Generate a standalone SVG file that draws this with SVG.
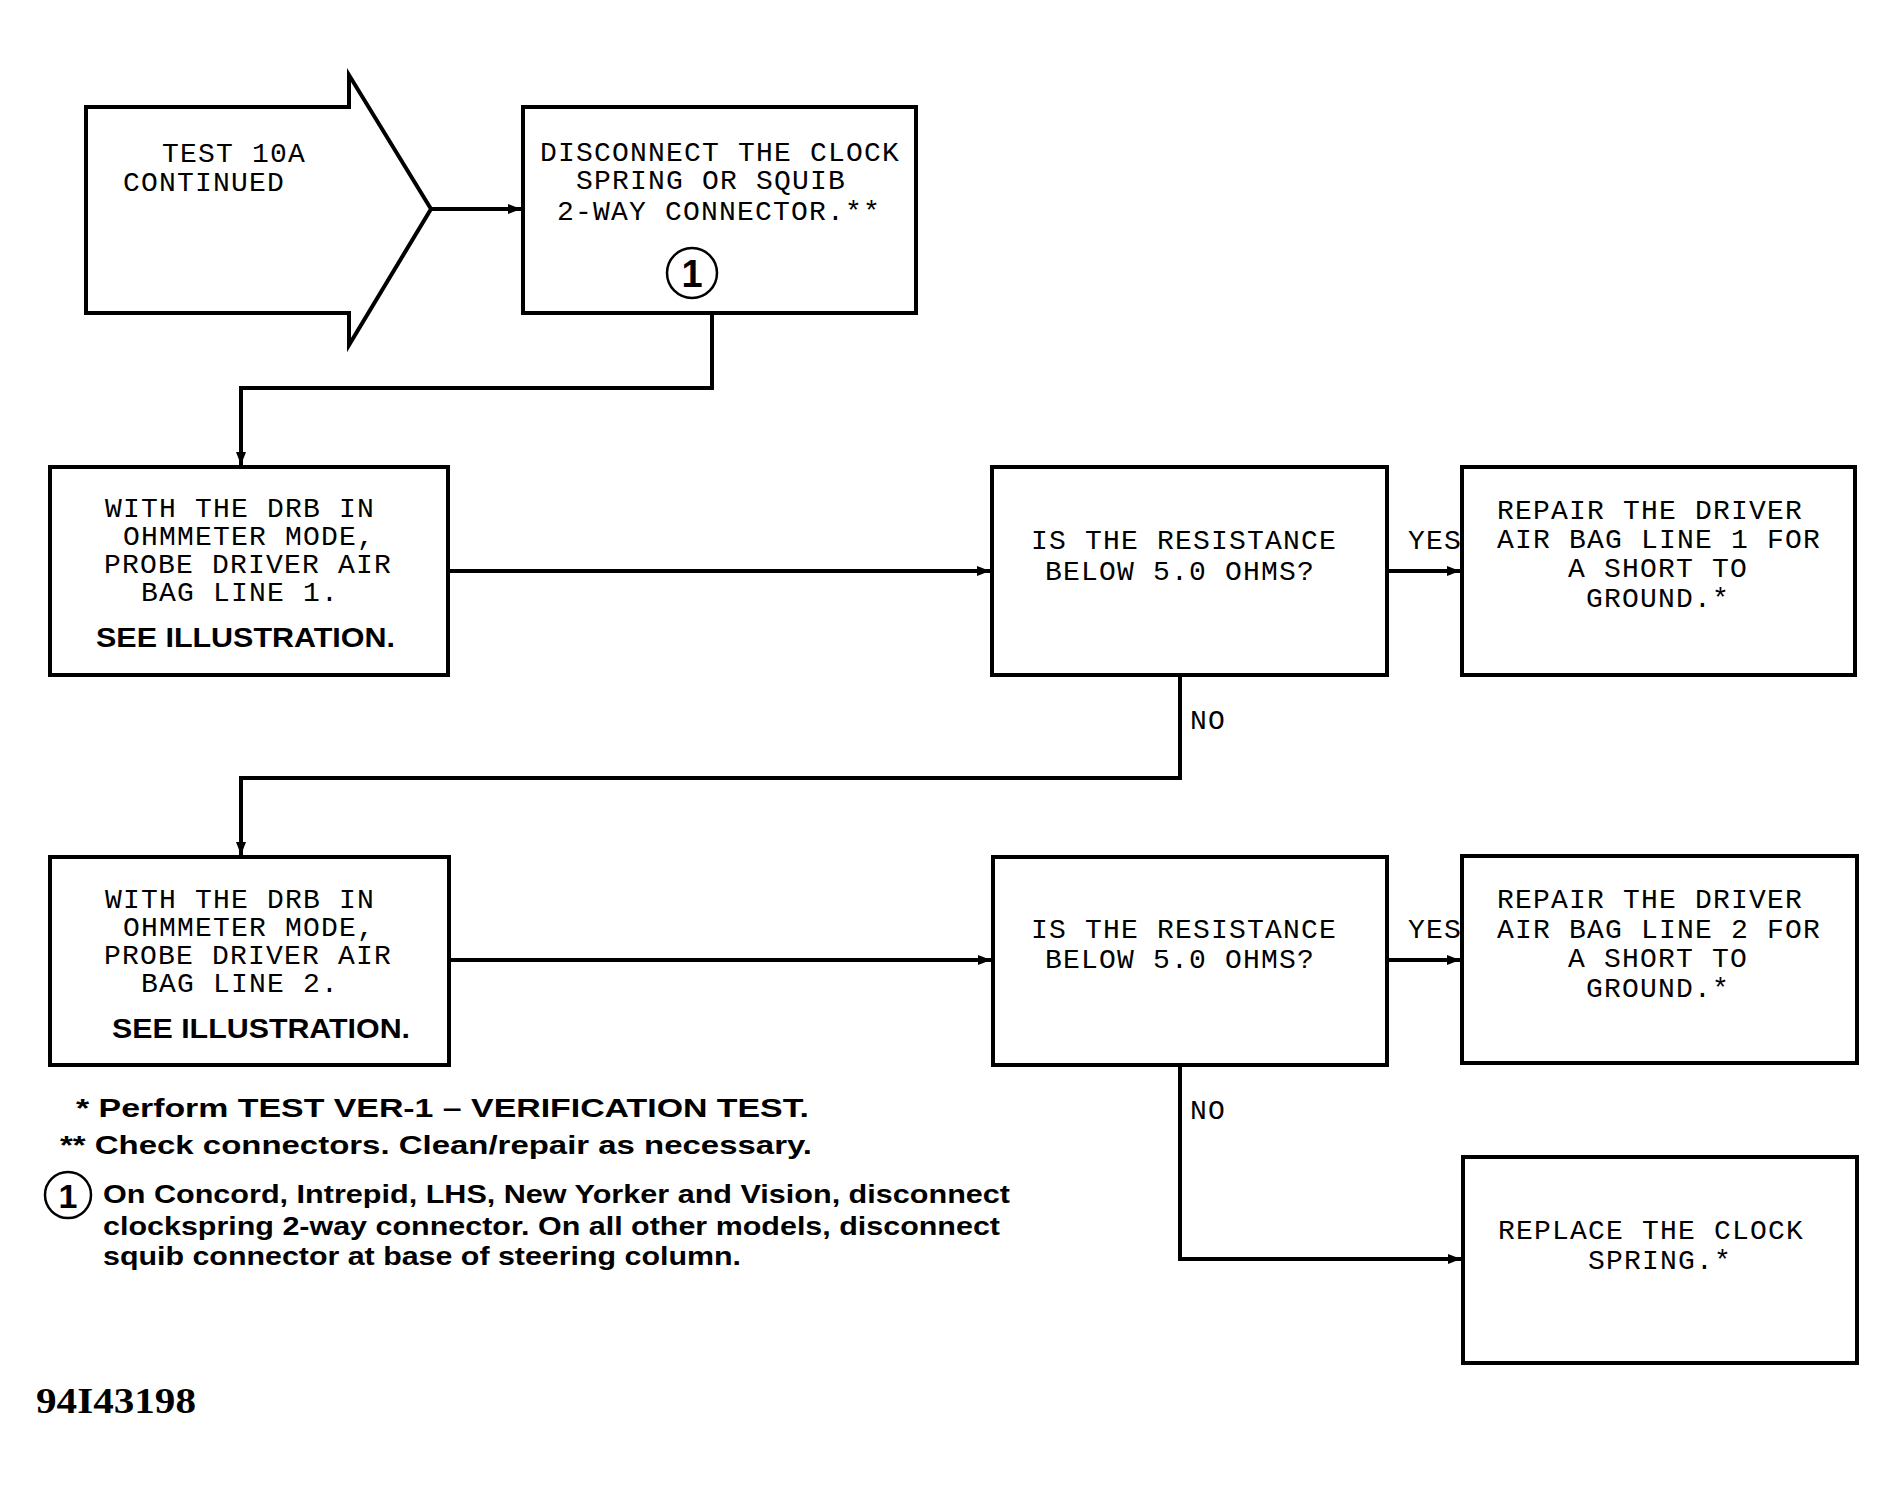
<svg xmlns="http://www.w3.org/2000/svg" width="1895" height="1489" viewBox="0 0 1895 1489">
<defs>
<style>
.box{fill:#fff;stroke:#000;stroke-width:4}
.ln{fill:none;stroke:#000;stroke-width:4}
.m{font-family:"Liberation Mono","DejaVu Sans Mono",monospace;font-size:28px;letter-spacing:1.2px;fill:#000}
.b{font-family:"Liberation Sans",Arial,sans-serif;font-weight:bold;fill:#000}
.fn{font-family:"Liberation Sans",Arial,sans-serif;font-weight:bold;font-size:25px;fill:#000}
.cn{fill:none;stroke:#000;stroke-width:2.5}
</style>
<marker id="ah" markerUnits="userSpaceOnUse" markerWidth="14" markerHeight="12" refX="13" refY="5" orient="auto">
<path d="M0,0 L13,5 L0,10 z" fill="#000"/>
</marker>
</defs>
<rect width="1895" height="1489" fill="#fff"/>

<g id="connectors">
<path class="ln" d="M431,209 H521" marker-end="url(#ah)"/>
<path class="ln" d="M712,313 V388 H241 V465" marker-end="url(#ah)"/>
<path class="ln" d="M448,571 H990" marker-end="url(#ah)"/>
<path class="ln" d="M1387,571 H1460" marker-end="url(#ah)"/>
<path class="ln" d="M1180,675 V778 H241 V855" marker-end="url(#ah)"/>
<path class="ln" d="M449,960 H991" marker-end="url(#ah)"/>
<path class="ln" d="M1387,960 H1460" marker-end="url(#ah)"/>
<path class="ln" d="M1180,1065 V1259 H1461" marker-end="url(#ah)"/>
<text class="m" x="1408" y="549">YES</text>
<text class="m" x="1190" y="729">NO</text>
<text class="m" x="1408" y="938">YES</text>
<text class="m" x="1190" y="1119">NO</text>
</g>

<g id="start">
<polygon class="box" points="86,107 349,107 349,75 431,209 349,345 349,313 86,313"/>
<text class="m" x="162" y="162">TEST 10A</text>
<text class="m" x="123" y="191">CONTINUED</text>
</g>

<g id="disconnect">
<rect class="box" x="523" y="107" width="393" height="206"/>
<text class="m" x="540" y="161">DISCONNECT THE CLOCK</text>
<text class="m" x="576" y="189">SPRING OR SQUIB</text>
<text class="m" x="557" y="220">2-WAY CONNECTOR.**</text>
<circle class="cn" cx="692" cy="273" r="25"/>
<text class="b" x="692" y="287" font-size="38" text-anchor="middle">1</text>
</g>

<g id="probe1">
<rect class="box" x="50" y="467" width="398" height="208"/>
<text class="m" x="105" y="517">WITH THE DRB IN</text>
<text class="m" x="123" y="545">OHMMETER MODE,</text>
<text class="m" x="104" y="573">PROBE DRIVER AIR</text>
<text class="m" x="141" y="601">BAG LINE 1.</text>
<text class="b" x="96" y="647" font-size="28" textLength="299" lengthAdjust="spacingAndGlyphs">SEE ILLUSTRATION.</text>
</g>

<g id="decision1">
<rect class="box" x="992" y="467" width="395" height="208"/>
<text class="m" x="1031" y="549">IS THE RESISTANCE</text>
<text class="m" x="1045" y="580">BELOW 5.0 OHMS?</text>
</g>

<g id="repair1">
<rect class="box" x="1462" y="467" width="393" height="208"/>
<text class="m" x="1497" y="519">REPAIR THE DRIVER</text>
<text class="m" x="1497" y="548">AIR BAG LINE 1 FOR</text>
<text class="m" x="1568" y="577">A SHORT TO</text>
<text class="m" x="1586" y="607">GROUND.*</text>
</g>

<g id="probe2">
<rect class="box" x="50" y="857" width="399" height="208"/>
<text class="m" x="105" y="908">WITH THE DRB IN</text>
<text class="m" x="123" y="936">OHMMETER MODE,</text>
<text class="m" x="104" y="964">PROBE DRIVER AIR</text>
<text class="m" x="141" y="992">BAG LINE 2.</text>
<text class="b" x="112" y="1038" font-size="28" textLength="298" lengthAdjust="spacingAndGlyphs">SEE ILLUSTRATION.</text>
</g>

<g id="decision2">
<rect class="box" x="993" y="857" width="394" height="208"/>
<text class="m" x="1031" y="938">IS THE RESISTANCE</text>
<text class="m" x="1045" y="968">BELOW 5.0 OHMS?</text>
</g>

<g id="repair2">
<rect class="box" x="1462" y="856" width="395" height="207"/>
<text class="m" x="1497" y="908">REPAIR THE DRIVER</text>
<text class="m" x="1497" y="938">AIR BAG LINE 2 FOR</text>
<text class="m" x="1568" y="967">A SHORT TO</text>
<text class="m" x="1586" y="997">GROUND.*</text>
</g>

<g id="replace">
<rect class="box" x="1463" y="1157" width="394" height="206"/>
<text class="m" x="1498" y="1239" fill="#222">REPLACE THE CLOCK</text>
<text class="m" x="1588" y="1269" fill="#222">SPRING.*</text>
</g>

<g id="notes">
<text class="fn" x="76" y="1117" textLength="733" lengthAdjust="spacingAndGlyphs">* Perform TEST VER-1 – VERIFICATION TEST.</text>
<text class="fn" x="60" y="1154" textLength="752" lengthAdjust="spacingAndGlyphs">** Check connectors. Clean/repair as necessary.</text>
<circle class="cn" cx="68" cy="1195" r="23"/>
<text class="b" x="68" y="1208" font-size="34" text-anchor="middle">1</text>
<text class="fn" x="103" y="1203" textLength="907" lengthAdjust="spacingAndGlyphs">On Concord, Intrepid, LHS, New Yorker and Vision, disconnect</text>
<text class="fn" x="103" y="1235" textLength="897" lengthAdjust="spacingAndGlyphs">clockspring 2-way connector. On all other models, disconnect</text>
<text class="fn" x="103" y="1265" textLength="638" lengthAdjust="spacingAndGlyphs">squib connector at base of steering column.</text>
<text x="36" y="1413" font-family="'Liberation Serif','Times New Roman',serif" font-weight="bold" font-size="36" textLength="160" lengthAdjust="spacingAndGlyphs">94I43198</text>
</g>
</svg>
